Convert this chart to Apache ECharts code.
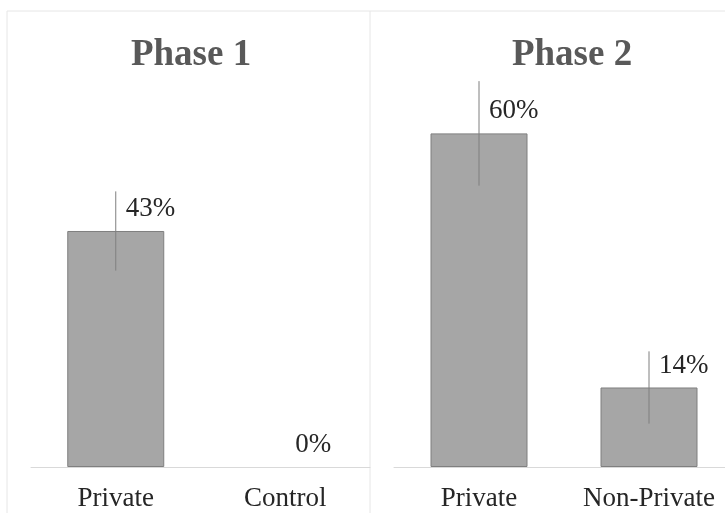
<!DOCTYPE html>
<html>
<head>
<meta charset="utf-8">
<script src="https://cdn.jsdelivr.net/npm/echarts@6/dist/echarts.min.js"></script>
<style>
	html, body { margin: 0; padding: 0; background: #fff; }
	#main { width: 725px; height: 513px; }
</style>
</head>
<body>
<div id="main"></div>
<script>
// data
var phase1Cats = ['Private', 'Control'];
var phase1Vals = [42.9, 0];
var phase1Err = [7.2, 0];

var phase2Cats = ['Private', 'Non-Private'];
var phase2Vals = [60, 14.3];
var phase2Err = [9.4, 6.5];

var FONT = 'Liberation Serif';

function errData(vals, errs) {
	var out = [];
	for (var i = 0; i < vals.length; i++) {
		out.push([i, vals[i] - errs[i], vals[i] + errs[i]]);
	}
	return out;
}

function renderErr(params, api) {
	var lo = api.coord([api.value(0), api.value(1)]);
	var hi = api.coord([api.value(0), api.value(2)]);
	if (api.value(2) - api.value(1) <= 0) {
		return null;
	}
	return {
		type : 'line',
		shape : { x1 : lo[0], y1 : lo[1], x2 : hi[0], y2 : hi[1] },
		style : { stroke : '#7f7f7f', lineWidth : 1 }
	};
}

//zero bars get no outline, only the label
function barData(vals) {
	return vals.map(function(v) {
		if (v == 0) {
			return { value : v, itemStyle : { borderWidth : 0 } };
		}
		return v;
	});
}

function barSeries(idx, vals) {
	return {
		type : 'bar',
		xAxisIndex : idx,
		yAxisIndex : idx,
		data : barData(vals),
		barWidth : 97,
		itemStyle : { color : '#a6a6a6', borderColor : '#7f7f7f', borderWidth : 1 },
		label : {
			show : true,
			position : ['50%', -22],
			offset : [10, 0],
			align : 'left',
			verticalAlign : 'middle',
			fontFamily : FONT,
			fontSize : 27,
			color : '#262626',
			formatter : function(p) { return Math.round(p.value) + '%'; }
		},
		z : 2
	};
}

function xAx(idx, cats) {
	return {
		type : 'category',
		gridIndex : idx,
		data : cats,
		axisTick : { show : false },
		axisLine : { lineStyle : { color : '#d9d9d9', width : 1 } },
		axisLabel : { interval : 0, fontFamily : FONT, fontSize : 27, color : '#262626', margin : 18 }
	};
}

function yAx(idx, max) {
	return { type : 'value', gridIndex : idx, min : 0, max : max, show : false };
}

var chart = echarts.init(document.getElementById('main'));

var titleStyle = { fontFamily : FONT, fontSize : 37, fontWeight : 'bold', color : '#595959' };

chart.setOption({
	backgroundColor : '#fff',
	animation : false,
	title : [
		{ text : 'Phase 1', left : 186, top : 32, textAlign : 'center', textStyle : titleStyle },
		{ text : 'Phase 2', left : 567, top : 32, textAlign : 'center', textStyle : titleStyle }
	],
	grid : [
		{ left : 31, width : 339, top : 50, bottom : 46, outerBoundsMode : 'none' },
		{ left : 394, width : 340, top : 50, bottom : 46, outerBoundsMode : 'none' }
	],
	xAxis : [xAx(0, phase1Cats), xAx(1, phase2Cats)],
	yAxis : [yAx(0, 75.8), yAx(1, 75)],
	series : [
		barSeries(0, phase1Vals),
		barSeries(1, phase2Vals),
		{ type : 'custom', xAxisIndex : 0, yAxisIndex : 0, renderItem : renderErr,
		  data : errData(phase1Vals, phase1Err), z : 3 },
		{ type : 'custom', xAxisIndex : 1, yAxisIndex : 1, renderItem : renderErr,
		  data : errData(phase2Vals, phase2Err), z : 3 }
	],
	graphic : [
		// panel frame lines
		{ type : 'line', shape : { x1 : 7, y1 : 11, x2 : 725, y2 : 11 }, style : { stroke : '#e6e6e6', lineWidth : 1 } },
		{ type : 'line', shape : { x1 : 7, y1 : 11, x2 : 7, y2 : 513 }, style : { stroke : '#e6e6e6', lineWidth : 1 } },
		{ type : 'line', shape : { x1 : 370, y1 : 11, x2 : 370, y2 : 513 }, style : { stroke : '#e6e6e6', lineWidth : 1 } }
	]
});
</script>
</body>
</html>
